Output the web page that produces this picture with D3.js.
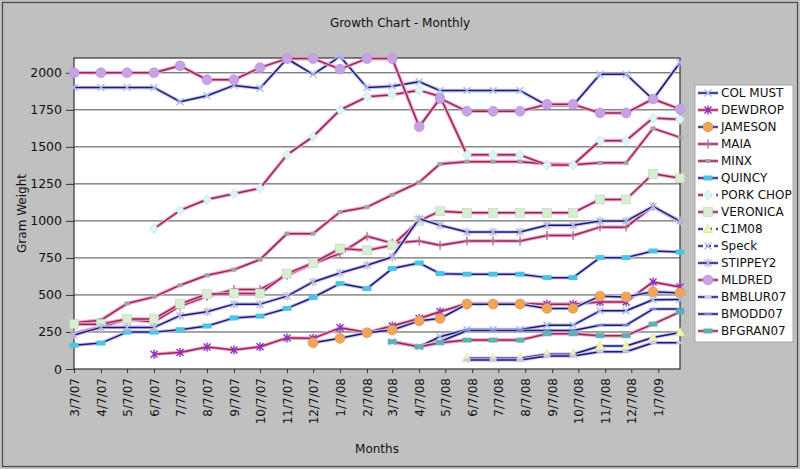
<!DOCTYPE html>
<html>
<head>
<meta charset="utf-8">
<script src="https://cdn.jsdelivr.net/npm/d3@7"></script>
<style>
  body { margin: 0; background: #c0c0c0; }
  text { font-family: "DejaVu Sans", Verdana, sans-serif; fill: #111; }
</style>
</head>
<body>
<svg id="chart" width="800" height="469"></svg>
<script>
// Measurement dates (m/d/yy)
const dates = ["3/7/07", "4/7/07", "5/7/07", "6/7/07", "7/7/07", "8/7/07", "9/7/07", "10/7/07",
  "11/7/07", "12/7/07", "1/7/08", "2/7/08", "3/7/08", "4/7/08", "5/1/08", "6/1/08", "7/1/08",
  "8/1/08", "9/1/08", "10/1/08", "11/1/08", "12/1/08", "1/1/09", "2/1/09"];

// Axis tick labels
const tickLabels = ["3/7/07", "4/7/07", "5/7/07", "6/7/07", "7/7/07", "8/7/07", "9/7/07", "10/7/07",
  "11/7/07", "12/7/07", "1/7/08", "2/7/08", "3/7/08", "4/7/08", "5/7/08", "6/7/08", "7/7/08",
  "8/7/08", "9/7/08", "10/7/08", "11/7/08", "12/7/08", "1/7/09"];
const yTicks = [0, 250, 500, 750, 1000, 1250, 1500, 1750, 2000];

const seriesNames = ["COL MUST", "DEWDROP", "JAMESON", "MAIA", "MINX", "QUINCY", "PORK CHOP",
  "VERONICA", "C1M08", "Speck", "STIPPEY2", "MLDRED", "BMBLUR07", "BMODD07", "BFGRAN07"];

// Gram weights, one value per date (null = not weighed yet)
const n = null;
const colMust  = [1900, 1900, 1900, 1900, 1805, 1845, 1915, 1895, 2095, 1990, 2110, 1900, 1910, 1940, 1880, 1880, 1880, 1880, 1780, 1780, 1990, 1990, 1820, 2070];
const dewdrop  = [n, n, n, 100, 112, 148, 128, 150, 210, 207, 278, 247, 290, 341, 386, 442, 442, 442, 438, 438, 453, 453, 588, 554];
const jameson  = [n, n, n, n, n, n, n, n, n, 177, 207, 245, 263, 325, 341, 438, 438, 438, 409, 409, 492, 487, 521, 514];
const maia     = [240, 285, 335, 319, 425, 490, 537, 537, 633, 712, 779, 896, 850, 864, 835, 864, 864, 864, 902, 902, 958, 958, 1098, 992];
const minx     = [312, 330, 442, 487, 566, 633, 671, 739, 914, 914, 1060, 1093, 1176, 1261, 1385, 1400, 1400, 1400, 1385, 1380, 1392, 1392, 1625, 1564];
const quincy   = [160, 175, 249, 249, 265, 290, 345, 357, 409, 483, 577, 543, 678, 716, 644, 640, 640, 640, 617, 617, 752, 752, 797, 790];
const porkChop = [n, n, n, 947, 1071, 1145, 1183, 1221, 1446, 1569, 1749, 1838, 1852, 1883, 1840, 1446, 1446, 1446, 1378, 1378, 1542, 1542, 1695, 1685];
const veronica = [303, 303, 338, 338, 440, 505, 510, 510, 644, 716, 813, 801, 835, 1000, 1066, 1055, 1055, 1055, 1055, 1055, 1145, 1145, 1318, 1288];
const c1m08    = [n, n, n, n, n, n, n, n, n, n, n, n, n, n, n, 72, 72, 72, 100, 100, 155, 155, 213, 247];
const speck    = [n, n, n, n, n, n, n, n, n, n, n, n, 184, 150, 218, 267, 267, 267, 296, 296, 393, 393, 468, 469];
const stippey2 = [229, 281, 281, 281, 360, 386, 438, 438, 492, 588, 648, 700, 756, 1015, 970, 925, 925, 925, 970, 970, 999, 999, 1098, 999];
const mldred   = [2000, 2000, 2000, 2000, 2047, 1953, 1953, 2035, 2096, 2096, 2025, 2096, 2096, 1636, 1827, 1740, 1740, 1740, 1787, 1787, 1729, 1729, 1823, 1755];
const bmblur07 = [n, n, n, n, n, n, n, n, n, n, n, n, n, n, n, 61, 61, 61, 88, 88, 117, 117, 177, 177];
const bmodd07  = [n, n, n, n, n, n, n, n, n, n, n, n, 184, 150, 184, 260, 260, 260, 260, 260, 296, 296, 405, 405];
const bfgran07 = [n, n, n, n, n, n, n, n, n, n, n, n, 184, 150, 177, 195, 195, 195, 238, 238, 225, 225, 303, 386];

const seriesValues = [colMust, dewdrop, jameson, maia, minx, quincy, porkChop, veronica,
  c1m08, speck, stippey2, mldred, bmblur07, bmodd07, bfgran07];

// Line family and marker per series
const NAVY = { core: "#1c1c6e", halo: "#c6c2f0" };
const PINK = { core: "#8e2a58", halo: "#f2a2ca" };
const styles = {
  "COL MUST":  { ink: NAVY, marker: "x",       color: "#aebdf0" },
  "DEWDROP":   { ink: PINK, marker: "ast",     color: "#8f2fc4" },
  "JAMESON":   { ink: NAVY, marker: "circle",  color: "#f0a458" },
  "MAIA":      { ink: PINK, marker: "plus",    color: "#a8708e" },
  "MINX":      { ink: PINK, marker: "square",  color: "#a4a4a4" },
  "QUINCY":    { ink: NAVY, marker: "rect",    color: "#4cc4e4" },
  "PORK CHOP": { ink: PINK, marker: "diamond", color: "#dcf6f6", dash: "5,4" },
  "VERONICA":  { ink: PINK, marker: "bigsq",   color: "#d8eed2" },
  "C1M08":     { ink: NAVY, marker: "tri",     color: "#f2f2b4", dash: "5,4" },
  "Speck":     { ink: NAVY, marker: "x",       color: "#a8bce8", dash: "5,3" },
  "STIPPEY2":  { ink: NAVY, marker: "ast",     color: "#b8b8de" },
  "MLDRED":    { ink: PINK, marker: "circle",  color: "#c8a2e6" },
  "BMBLUR07":  { ink: NAVY, marker: "dash",    color: "#c4cbf0" },
  "BMODD07":   { ink: NAVY, marker: "dash",    color: "#6a88d8" },
  "BFGRAN07":  { ink: PINK, marker: "rect",    color: "#5fb2b4" }
};

const parse = d3.timeParse("%m/%d/%y");
const svg = d3.select("#chart");
const W = 800, H = 469;
const plot = { left: 74, right: 680, top: 58, bottom: 369 };

// Chart frame
svg.append("rect").attr("x", 0).attr("y", 0).attr("width", W).attr("height", H).attr("fill", "#c0c0c0");
svg.append("rect").attr("x", 2.5).attr("y", 2.5).attr("width", W - 5).attr("height", H - 5)
  .attr("fill", "none").attr("stroke", "#4a4a4a").attr("stroke-width", 1.2);

const x = d3.scaleTime()
  .domain([parse(dates[0]), parse(dates[dates.length - 1])])
  .range([plot.left, plot.right]);
const y = d3.scaleLinear().domain([0, 2100]).range([plot.bottom, plot.top]);

// Plot area
svg.append("rect").attr("x", plot.left).attr("y", plot.top)
  .attr("width", plot.right - plot.left).attr("height", plot.bottom - plot.top)
  .attr("fill", "#fff");

svg.append("g").selectAll("line").data(yTicks.filter(t => t > 0)).join("line")
  .attr("x1", plot.left).attr("x2", plot.right)
  .attr("y1", d => y(d)).attr("y2", d => y(d))
  .attr("stroke", "#4a4a4a").attr("stroke-width", 1);

svg.append("rect").attr("x", plot.left).attr("y", plot.top)
  .attr("width", plot.right - plot.left).attr("height", plot.bottom - plot.top)
  .attr("fill", "none").attr("stroke", "#333").attr("stroke-width", 1.2);

// Y axis
const yAxis = svg.append("g")
  .attr("transform", `translate(${plot.left},0)`)
  .call(d3.axisLeft(y).tickValues(yTicks).tickFormat(d3.format("d")).tickSize(8).tickPadding(4));
yAxis.select(".domain").remove();
yAxis.selectAll(".tick line").attr("stroke", "#333");
yAxis.selectAll("text").style("font-size", "12.5px").attr("fill", "#111")
  .style("font-family", "'DejaVu Sans', Verdana, sans-serif");

// X axis
const xAxis = svg.append("g")
  .attr("transform", `translate(0,${plot.bottom})`)
  .call(d3.axisBottom(x).tickValues(tickLabels.map(parse)).tickSize(4)
    .tickFormat((d, i) => tickLabels[i]));
xAxis.select(".domain").remove();
xAxis.selectAll(".tick line").attr("stroke", "#333");
xAxis.selectAll("text")
  .style("font-size", "12px").attr("fill", "#111")
  .style("font-family", "'DejaVu Sans', Verdana, sans-serif")
  .attr("text-anchor", "end")
  .attr("transform", "rotate(-90)")
  .attr("x", -9).attr("y", 0).attr("dy", "0.35em");

// Titles
svg.append("text").attr("x", 400).attr("y", 27).attr("text-anchor", "middle")
  .style("font-size", "12px").text("Growth Chart - Monthly");
svg.append("text").attr("x", (plot.left + plot.right) / 2).attr("y", 453).attr("text-anchor", "middle")
  .style("font-size", "12px").text("Months");
svg.append("text").attr("transform", `translate(26,${(plot.top + plot.bottom) / 2}) rotate(-90)`)
  .attr("text-anchor", "middle").style("font-size", "12px").text("Gram Weight");

// Marker drawing
function drawMarker(g, type, color, cx, cy) {
  const s = g.append("g").attr("transform", `translate(${cx},${cy})`);
  if (type === "circle") {
    s.append("circle").attr("r", 5).attr("fill", color).attr("stroke", d3.color(color).darker(0.3)).attr("stroke-width", 0.6);
  } else if (type === "square") {
    s.append("rect").attr("x", -2.5).attr("y", -2).attr("width", 5).attr("height", 4).attr("fill", color);
  } else if (type === "bigsq") {
    s.append("rect").attr("x", -4.5).attr("y", -4.5).attr("width", 9).attr("height", 9)
      .attr("fill", color).attr("stroke", "#bcd6b6").attr("stroke-width", 0.6);
  } else if (type === "rect") {
    s.append("rect").attr("x", -4.5).attr("y", -2.5).attr("width", 9).attr("height", 5).attr("fill", color);
  } else if (type === "diamond") {
    s.append("path").attr("d", "M0,-5L4.5,0L0,5L-4.5,0Z").attr("fill", color)
      .attr("stroke", "#b4dede").attr("stroke-width", 0.6);
  } else if (type === "tri") {
    s.append("path").attr("d", "M0,-5L4.8,3.5L-4.8,3.5Z").attr("fill", color)
      .attr("stroke", "#d6d690").attr("stroke-width", 0.6);
  } else if (type === "x") {
    s.append("path").attr("d", "M-3.5,-3.5L3.5,3.5M3.5,-3.5L-3.5,3.5")
      .attr("stroke", color).attr("stroke-width", 1.4);
  } else if (type === "ast") {
    s.append("path").attr("d", "M-3.5,-3.5L3.5,3.5M3.5,-3.5L-3.5,3.5M0,-4.5L0,4.5")
      .attr("stroke", color).attr("stroke-width", 1.4);
  } else if (type === "plus") {
    s.append("path").attr("d", "M0,-4.5L0,4.5M-3,0L3,0")
      .attr("stroke", color).attr("stroke-width", 1.3);
  } else if (type === "dash") {
    s.append("path").attr("d", "M-3.5,0L3.5,0").attr("stroke", color).attr("stroke-width", 2.2);
  }
}

const line = d3.line()
  .defined(d => d.v !== null)
  .x(d => x(d.date))
  .y(d => y(d.v));

const seriesLayer = svg.append("g");
seriesNames.forEach((name, si) => {
  const st = styles[name];
  const pts = seriesValues[si].map((v, i) => ({ date: parse(dates[i]), v: v }));
  const g = seriesLayer.append("g");
  g.append("path").datum(pts).attr("d", line).attr("fill", "none")
    .attr("stroke", st.ink.halo).attr("stroke-width", 3.6).attr("stroke-linejoin", "round");
  g.append("path").datum(pts).attr("d", line).attr("fill", "none")
    .attr("stroke", st.ink.core).attr("stroke-width", 1.5).attr("stroke-linejoin", "round");
  pts.filter(p => p.v !== null).forEach(p => drawMarker(g, st.marker, st.color, x(p.date), y(p.v)));
});

// Legend
const legend = svg.append("g");
legend.append("rect").attr("x", 695).attr("y", 85).attr("width", 98).attr("height", 257)
  .attr("fill", "#fff").attr("stroke", "#9a9a9a").attr("stroke-width", 0.8);
seriesNames.forEach((name, i) => {
  const st = styles[name];
  const ly = 93 + i * 17;
  legend.append("line").attr("x1", 698).attr("x2", 718).attr("y1", ly).attr("y2", ly)
    .attr("stroke", st.ink.halo).attr("stroke-width", 3.5).attr("stroke-dasharray", st.dash || null);
  legend.append("line").attr("x1", 698).attr("x2", 718).attr("y1", ly).attr("y2", ly)
    .attr("stroke", st.ink.core).attr("stroke-width", 1.5).attr("stroke-dasharray", st.dash || null);
  drawMarker(legend, st.marker, st.color, 708, ly);
  legend.append("text").attr("x", 721).attr("y", ly).attr("dy", "0.36em")
    .style("font-size", "12px").text(name);
});
</script>
</body>
</html>
